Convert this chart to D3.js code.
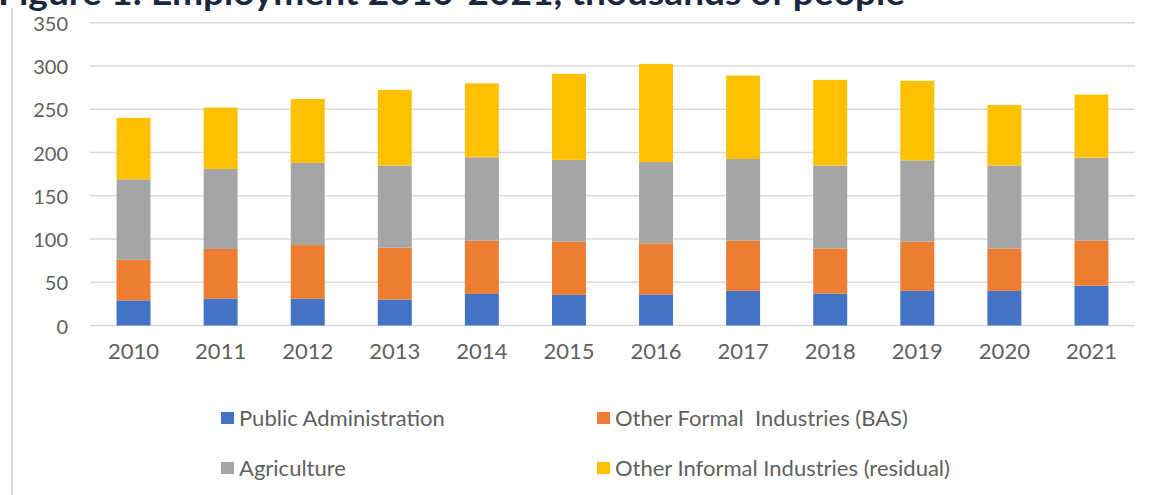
<!DOCTYPE html>
<html>
<head>
<meta charset="utf-8">
<script src="https://cdn.jsdelivr.net/npm/d3@7/dist/d3.min.js"></script>
<style>
  html, body { margin: 0; padding: 0; background: #fff; }
  svg { display: block; }
</style>
</head>
<body>
<svg id="chart" width="1157" height="495"></svg>
<script>
// ---- Data (thousands of people) ----
const years = ["2010","2011","2012","2013","2014","2015","2016","2017","2018","2019","2020","2021"];
const seriesNames = ["Public Administration", "Other Formal  Industries (BAS)", "Agriculture", "Other Informal Industries (residual)"];
const publicAdministration = [29, 31, 31, 30, 36.5, 35.5, 36, 40, 37, 40, 40, 46];
const otherFormal = [47, 57.5, 62, 60, 61.5, 61.5, 59, 58, 52, 57, 49, 52];
const agriculture = [93, 92.5, 95, 95, 96.5, 94.5, 94, 94.5, 96, 94, 96, 96];
const otherInformal = [71, 71, 74, 87.5, 85.5, 99.5, 113.5, 96.5, 99, 92, 70, 73];
const yTicks = [0, 50, 100, 150, 200, 250, 300, 350];
const titleText = "Figure 1: Employment 2010-2021, thousands of people";

const colors = ["#4472C4", "#ED7D31", "#A5A5A5", "#FFC000"];
const keys = ["pa", "of", "ag", "oi"];

const table = years.map((y, i) => ({
  year: y,
  pa: publicAdministration[i],
  of: otherFormal[i],
  ag: agriculture[i],
  oi: otherInformal[i]
}));

const svg = d3.select("#chart");
const font = "Lato, Calibri, 'Open Sans', sans-serif";

const x = d3.scaleBand().domain(years).range([90, 1135]).paddingInner(0.61).paddingOuter(0.305);
const y = d3.scaleLinear().domain([0, 350]).range([325.5, 22.8]);

// left border line
svg.append("line").attr("x1", 12).attr("x2", 12).attr("y1", 8).attr("y2", 495)
  .attr("stroke", "#d9d9d9").attr("stroke-width", 2);

// title (cut off at top, as in the reference)
svg.append("text").attr("x", -2).attr("y", 5)
  .attr("font-family", font).attr("font-weight", "bold").attr("font-size", 34)
  .attr("textLength", 907).attr("lengthAdjust", "spacingAndGlyphs")
  .attr("fill", "#1A2740").text(titleText);

// gridlines
svg.append("g").selectAll("line").data(yTicks).join("line")
  .attr("x1", 90).attr("x2", 1135)
  .attr("y1", d => y(d)).attr("y2", d => y(d))
  .attr("stroke", "#d9d9d9").attr("stroke-width", 1.5);

// y axis labels
const yAxis = d3.axisLeft(y).tickValues(yTicks).tickSize(0).tickPadding(0);
const yg = svg.append("g").attr("transform", "translate(68,0)").call(yAxis);
yg.select(".domain").remove();
yg.selectAll("text").attr("font-family", font).attr("font-size", 20).attr("fill", "#5f5f5f")
  .attr("dy", "0.38em");

// stacked bars
const stack = d3.stack().keys(keys)(table);
svg.append("g").selectAll("g").data(stack).join("g")
  .attr("fill", (d, i) => colors[i])
  .selectAll("rect").data(d => d).join("rect")
  .attr("x", d => x(d.data.year))
  .attr("width", x.bandwidth())
  .attr("y", d => y(d[1]))
  .attr("height", d => y(d[0]) - y(d[1]));

// x axis labels
const xAxis = d3.axisBottom(x).tickSize(0).tickPadding(0);
const xg = svg.append("g").attr("transform", "translate(0,352)").call(xAxis);
xg.select(".domain").remove();
xg.selectAll("text").attr("font-family", font).attr("font-size", 22).attr("fill", "#5f5f5f")
  .attr("dy", "0.3em");

// legend
const legendPos = [[221, 418], [597, 418], [221, 468], [597, 468]];
const lg = svg.append("g").selectAll("g").data(seriesNames).join("g")
  .attr("transform", (d, i) => `translate(${legendPos[i][0]},${legendPos[i][1]})`);
lg.append("rect").attr("x", 0).attr("y", -6).attr("width", 13).attr("height", 12)
  .attr("fill", (d, i) => colors[i]);
lg.append("text").attr("x", 18).attr("y", 0).attr("dy", "0.35em")
  .attr("font-family", font).attr("font-size", 22).attr("fill", "#5f5f5f")
  .attr("xml:space", "preserve").style("white-space", "pre")
  .text(d => d);
</script>
</body>
</html>
